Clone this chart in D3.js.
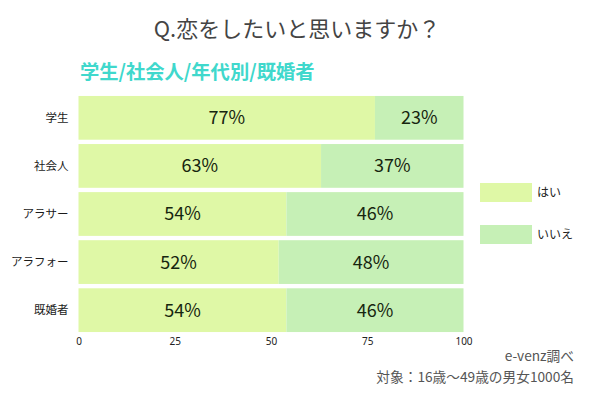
<!DOCTYPE html>
<html><head><meta charset="utf-8">
<script src="https://cdn.jsdelivr.net/npm/d3@7"></script>
<style>body{margin:0;background:#fff}svg{display:block}text{font-family:"Noto Sans CJK JP","Noto Sans",sans-serif}</style>
</head><body><svg id="c" width="600" height="400"></svg>
<script>
const categories = ["学生","社会人","アラサー","アラフォー","既婚者"];
const yesValues = [77,63,54,52,54];
const noValues = [23,37,46,48,46];
const seriesNames = ["はい","いいえ"];
const xTicks = [0,25,50,75,100];
const colors = ["#dff8a6","#c6f0b6"];

const svg = d3.select("#c");
const x = d3.scaleLinear().domain([0,100]).range([78.5,463.5]);
const y = d3.scaleBand().domain(categories).range([95,333]).paddingInner(0.09).paddingOuter(0.02);

svg.append("text").attr("x",297).attr("y",37).attr("text-anchor","middle")
  .attr("font-size",22).attr("fill","#444").text("Q.恋をしたいと思いますか？");
svg.append("text").attr("x",80).attr("y",78.5).attr("font-size",19.3).attr("font-weight","bold")
  .attr("fill","#40d8cc").text("学生/社会人/年代別/既婚者");

const rows = categories.map((c,i)=>({c, vals:[yesValues[i], noValues[i]]}));
rows.forEach(r=>{
  let acc=0;
  r.vals.forEach((v,j)=>{
    const x0=x(acc), x1=x(acc+v);
    svg.append("rect").attr("x",x0).attr("y",y(r.c)).attr("width",x1-x0).attr("height",y.bandwidth()).attr("fill",colors[j]);
    svg.append("text").attr("x",(x0+x1)/2).attr("y",y(r.c)+y.bandwidth()/2).attr("dy","0.36em")
      .attr("text-anchor","middle").attr("font-size",18).attr("fill","#16250f").text(v+"%");
    acc+=v;
  });
});

const yAxis = svg.append("g").attr("transform","translate(68.5,0)")
  .call(d3.axisLeft(y).tickSize(0).tickPadding(0));
yAxis.select(".domain").remove();
yAxis.selectAll("text").attr("font-size",11.5).attr("fill","#1a1a1a").style("font-family",'"Noto Sans CJK JP",sans-serif');

const xAxis = svg.append("g").attr("transform","translate(0,336)")
  .call(d3.axisBottom(x).tickValues(xTicks).tickSize(0).tickPadding(2));
xAxis.select(".domain").remove();
xAxis.selectAll("text").attr("font-size",10).attr("fill","#222").style("font-family",'"Noto Sans",sans-serif');

seriesNames.forEach((n,i)=>{
  const ly = 183 + i*42;
  svg.append("rect").attr("x",480).attr("y",ly).attr("width",52).attr("height",19).attr("fill",colors[i]);
  svg.append("text").attr("x",537).attr("y",ly+9.5).attr("dy","0.35em").attr("font-size",12).attr("fill","#222").text(n);
});

svg.append("text").attr("x",574).attr("y",361).attr("text-anchor","end").attr("font-size",13.7).attr("fill","#555").text("e-venz調べ");
svg.append("text").attr("x",574).attr("y",382).attr("text-anchor","end").attr("font-size",13.7).attr("fill","#555").text("対象：16歳〜49歳の男女1000名");
</script></body></html>
